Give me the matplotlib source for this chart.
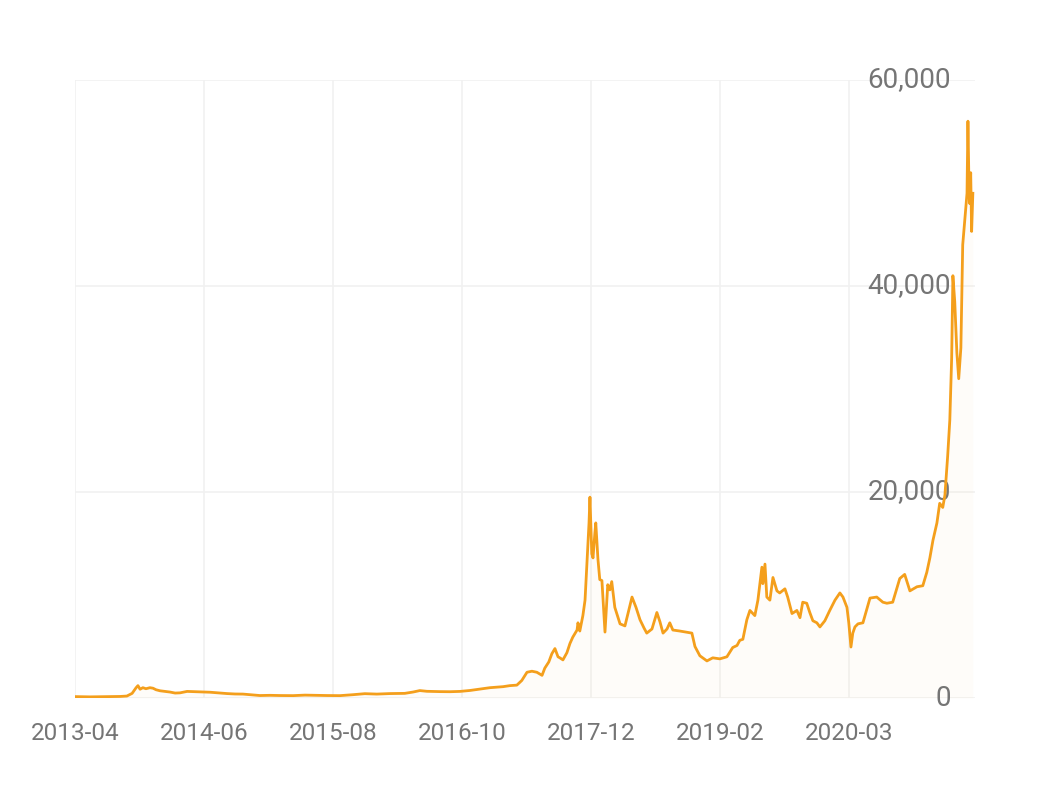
import matplotlib
matplotlib.use("Agg")
import matplotlib.pyplot as plt
import matplotlib.transforms as mtransforms

# Day index (trading-day position along the axis) and price (USD)
day_index = [0, 49, 98, 147, 169, 186, 199, 205, 212, 221, 231, 244, 254, 264, 277, 293, 309, 326, 342,
             365, 384, 407, 440, 472, 495, 521, 547, 570, 602, 635, 668, 710, 749, 781, 821, 863, 905,
             944, 983, 1026, 1074, 1101, 1123, 1146, 1188, 1221, 1254, 1286, 1328, 1351, 1374, 1394,
             1416, 1439, 1455, 1472, 1488, 1504, 1521, 1530, 1543, 1553, 1563, 1573, 1579, 1589, 1602,
             1612, 1621, 1635, 1638, 1644, 1654, 1661, 1667, 1674, 1677, 1683, 1687, 1693, 1696, 1703,
             1709, 1716, 1726, 1735, 1742, 1748, 1758, 1775, 1791, 1814, 1827, 1840, 1853, 1862, 1879,
             1895, 1905, 1915, 1928, 1937, 1947, 1970, 1989, 2009, 2019, 2035, 2058, 2077, 2100, 2123,
             2142, 2156, 2165, 2175, 2188, 2198, 2214, 2224, 2230, 2237, 2240, 2247, 2253, 2263, 2273,
             2286, 2295, 2312, 2321, 2335, 2351, 2361, 2370, 2383, 2393, 2403, 2416, 2426, 2442, 2458,
             2475, 2491, 2501, 2514, 2520, 2527, 2533, 2540, 2550, 2566, 2589, 2611, 2631, 2644, 2663,
             2686, 2702, 2719, 2742, 2761, 2774, 2784, 2794, 2807, 2816, 2826, 2833, 2842, 2849, 2855,
             2859, 2865, 2872, 2878, 2885, 2891, 2898, 2905, 2908, 2911, 2914, 2917, 2920, 2924]
price = [135, 110, 125, 150, 190, 450, 1000, 1200, 850, 1000, 900, 1000, 950, 800, 700, 640, 580, 480, 500,
         640, 620, 600, 560, 480, 430, 390, 380, 320, 240, 260, 240, 230, 280, 260, 240, 230, 320,
         420, 380, 430, 450, 580, 720, 650, 620, 610, 640, 730, 900, 1000, 1050, 1100,
         1200, 1250, 1700, 2500, 2600, 2500, 2200, 2900, 3500, 4300, 4800, 4000, 3900, 3700, 4400,
         5300, 5900, 6600, 7300, 6500, 8000, 9500, 13000, 17000, 19500, 14000, 13600, 16000, 17000, 13500,
         11500, 11400, 6400, 11000, 10500, 11300, 8800, 7200, 7000, 9800, 8800, 7600, 6800, 6300, 6700,
         8300, 7400, 6300, 6700, 7300, 6600, 6500, 6400, 6300, 5000, 4100, 3600, 3900, 3800, 4000,
         4900, 5100, 5600, 5700, 7600, 8500, 8000, 9500, 11000, 12700, 11100, 13000, 9800, 9500, 11700,
         10400, 10200, 10600, 9800, 8200, 8500, 7800, 9300, 9200, 8300, 7500, 7300, 6900, 7500, 8500,
         9500, 10200, 9800, 8800, 7300, 4950, 6300, 6900, 7200, 7300, 9700, 9800, 9300, 9200, 9300,
         11600, 12000, 10400, 10800, 10900, 12200, 13600, 15300, 17000, 18900, 18500, 19700, 23500, 27000, 33000,
         41000, 38500, 33500, 31000, 34000, 44000, 46500, 49000, 56000, 50500, 48000, 51000, 45300, 49000]

x_tick_pos = [0, 420, 840, 1260, 1680, 2100, 2520]
x_tick_labels = ["2013-04", "2014-06", "2015-08", "2016-10", "2017-12", "2019-02", "2020-03"]
y_ticks = [0, 20000, 40000, 60000]
y_tick_labels = ["0", "20,000", "40,000", "60,000"]

W, H = 1063, 789
fig = plt.figure(figsize=(W / 100, H / 100), dpi=100)
ax = fig.add_axes([75 / W, 1 - 698 / H, 900 / W, 618 / H])

line_color = "#f49f1c"
grid_color = "#f1f1f1"
text_color = "#757575"

ax.fill_between(day_index, price, 0, color=line_color, alpha=0.025, linewidth=0, zorder=1)
ax.plot(day_index, price, color=line_color, lw=2.0, zorder=3, solid_joinstyle="round")

ax.set_xlim(0, 2931)
ax.set_ylim(0, 60000)
ax.set_xticks(x_tick_pos)
ax.set_xticklabels(x_tick_labels, family="Roboto", fontsize=17.5, color=text_color)
ax.set_yticks(y_ticks)
ax.set_yticklabels([])
ax.tick_params(axis="both", length=0)
ax.tick_params(axis="x", pad=17)
ax.grid(True, color=grid_color, lw=1.2, zorder=0)
ax.set_axisbelow(True)
for s in ax.spines.values():
    s.set_visible(False)

trans = mtransforms.blended_transform_factory(ax.transAxes, ax.transData)
for v, lab in zip(y_ticks, y_tick_labels):
    ax.text(876 / 900, v, lab, transform=trans, ha="right", va="center",
            family="Roboto", fontsize=20, color=text_color, zorder=2, clip_on=False)

fig.savefig("out.png", dpi=100, facecolor="white")
